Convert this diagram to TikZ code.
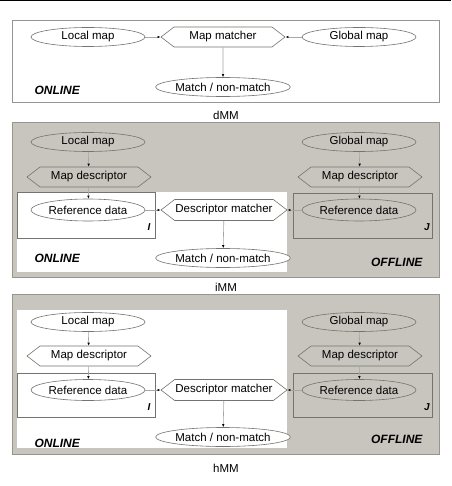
\documentclass[tikz,border=0pt]{standalone}
\usepackage{fontspec}
\setmainfont{Liberation Sans}
\usetikzlibrary{shapes.geometric}
\usetikzlibrary{shapes.symbols}
\usetikzlibrary{arrows.meta}
\definecolor{panelgray}{RGB}{200,197,191}
\definecolor{rimgray}{RGB}{150,149,144}
\definecolor{linegray}{RGB}{115,115,112}
\tikzstyle{panel}=[fill=panelgray, draw=rimgray, line width=1pt]
\tikzstyle{online area}=[fill=white]
\tikzstyle{set box}=[draw=linegray, line width=0.6pt]
\tikzstyle{data}=[ellipse, draw=linegray, line width=0.6pt, minimum width=114pt, minimum height=19pt, inner sep=0pt]
\tikzstyle{matcher}=[signal, signal to=west and east, signal pointer angle=75, draw=linegray, line width=0.6pt, minimum width=124pt, minimum height=20pt, inner sep=0pt]
\tikzstyle{flow}=[draw=gray!70, line width=0.6pt, -{Latex[length=3pt, width=2.5pt, color=black]}]
\tikzstyle{mode}=[font=\fontsize{12}{14}\selectfont\bfseries\itshape]
\tikzstyle{setname}=[font=\fontsize{10}{12}\selectfont\bfseries\itshape]

\begin{document}
\begin{tikzpicture}[x=1pt, y=-1pt, font=\fontsize{11.5}{13}\selectfont]
  \useasboundingbox (0,0) rectangle (451,486);
  \draw[line width=1.5pt] (0,0.75) -- (451,0.75);

  % dMM
  \draw[fill=white, draw=rimgray, line width=0.8pt] (12,20) rectangle (439,102);
  \node[data, fill=white] (lm1) at (88,37) {Local map};
  \node[matcher, fill=white] (mm1) at (223,37) {Map matcher};
  \node[data, fill=white] (gm1) at (359,37) {Global map};
  \node[data, fill=white] (res1) at (223,87) {Match / non-match};
  \node[mode, anchor=west] (on1) at (31,90) {ONLINE};
  \node (cap1) at (226,115) {dMM};
  \draw[flow] (lm1) -- (mm1.west);
  \draw[flow] (gm1) -- (mm1.east);
  \draw[flow] (mm1) -- (res1);

  % iMM
  \draw[panel] (12,123) rectangle (439,277);
  \fill[online area] (17,192) rectangle (287,272);
  \draw[set box] (17,192) rectangle (155,238);
  \draw[set box] (293,193) rectangle (432,238);
  \node[data, fill=panelgray] (lm2) at (88,142) {Local map};
  \node[matcher, fill=panelgray] (mdl2) at (89,177) {Map descriptor};
  \node[data, fill=white, minimum height=22pt] (rdl2) at (88,210) {Reference data};
  \node[matcher, fill=white, minimum width=126pt, minimum height=21pt] (dm2) at (224,210) {Descriptor matcher};
  \node[data, fill=white] (res2) at (223,258) {Match / non-match};
  \node[data, fill=panelgray] (gm2) at (359,142) {Global map};
  \node[matcher, fill=panelgray] (mdr2) at (360,177) {Map descriptor};
  \node[data, fill=panelgray, minimum height=22pt] (rdr2) at (359,210) {Reference data};
  \node[setname] (i2) at (149,227) {I};
  \node[setname] (j2) at (427,227) {J};
  \node[mode, anchor=west] (on2) at (31,258) {ONLINE};
  \node[mode, anchor=east] (off2) at (426,262) {OFFLINE};
  \node (cap2) at (226,287) {iMM};
  \draw[flow] (lm2) -- (mdl2);
  \draw[flow] (mdl2) -- (rdl2);
  \draw[flow] (rdl2) -- (dm2.west);
  \draw[flow] (gm2) -- (mdr2);
  \draw[flow] (mdr2) -- (rdr2);
  \draw[flow] (rdr2) -- (dm2.east);
  \draw[flow] (dm2) -- (res2);

  % hMM
  \draw[panel] (12,294) rectangle (439,454);
  \fill[online area] (17,310) rectangle (287,448);
  \draw[set box] (17,373) rectangle (155,417);
  \draw[set box] (293,373) rectangle (432,417);
  \node[data, fill=white] (lm3) at (88,322) {Local map};
  \node[matcher, fill=white] (mdl3) at (89,356) {Map descriptor};
  \node[data, fill=white, minimum height=21pt] (rdl3) at (88,390) {Reference data};
  \node[matcher, fill=white, minimum width=126pt, minimum height=21pt] (dm3) at (224,390) {Descriptor matcher};
  \node[data, fill=white] (res3) at (223,437) {Match / non-match};
  \node[data, fill=panelgray] (gm3) at (359,322) {Global map};
  \node[matcher, fill=panelgray] (mdr3) at (360,356) {Map descriptor};
  \node[data, fill=panelgray, minimum height=21pt] (rdr3) at (359,390) {Reference data};
  \node[setname] (i3) at (149,407) {I};
  \node[setname] (j3) at (427,407) {J};
  \node[mode, anchor=west] (on3) at (31,443) {ONLINE};
  \node[mode, anchor=east] (off3) at (426,439) {OFFLINE};
  \node (cap3) at (226,468) {hMM};
  \draw[flow] (lm3) -- (mdl3);
  \draw[flow] (mdl3) -- (rdl3);
  \draw[flow] (rdl3) -- (dm3.west);
  \draw[flow] (gm3) -- (mdr3);
  \draw[flow] (mdr3) -- (rdr3);
  \draw[flow] (rdr3) -- (dm3.east);
  \draw[flow] (dm3) -- (res3);
\end{tikzpicture}
\end{document}
